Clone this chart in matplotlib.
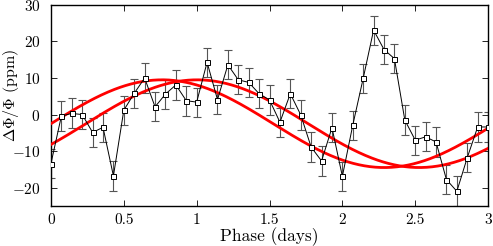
import numpy as np
import matplotlib
matplotlib.use('Agg')
import matplotlib.pyplot as plt

plt.rcParams['font.family'] = 'serif'
plt.rcParams['font.serif'] = ['cmr10']
plt.rcParams['mathtext.fontset'] = 'cm'
plt.rcParams['axes.formatter.use_mathtext'] = True
plt.rcParams['axes.unicode_minus'] = True

# binned phase curve (43 bins over 3 days)
phase = np.linspace(0, 3, 43)
flux = [-13.4, -0.4, 0.3, 0.0, -4.9, -3.5, -16.8, 1.2, 5.8, 10.0,
        2.1, 5.6, 8.1, 3.8, 3.4, 14.3, 4.1, 13.6, 9.5, 8.8,
        5.7, 4.0, -2.1, 5.7, -0.1, -8.9, -12.7, -3.6, -16.9, -2.9,
        9.9, 23.1, 17.8, 15.3, -1.5, -7.0, -6.1, -7.5, -17.8, -21.0,
        -11.8, -3.4, -3.4]
err = [4.0, 4.0, 4.1, 4.0, 4.0, 4.0, 4.1, 4.0, 4.0, 4.0,
       4.0, 4.0, 4.0, 4.1, 4.0, 4.0, 4.0, 4.0, 4.0, 4.0,
       4.0, 4.0, 4.0, 4.0, 4.0, 4.0, 4.0, 4.0, 4.0, 4.0,
       4.0, 4.0, 4.0, 4.0, 4.0, 4.0, 4.0, 4.0, 4.0, 4.1,
       4.0, 4.0, 4.0]

# sinusoidal model fits: offset, amplitude, period, phase shift
fit_offset = -2.5
fit_amp = 12.0
fit_period = 3.05
fit_shifts = [0.0, 0.24]

fig = plt.figure(figsize=(4.93, 2.46), dpi=100)
ax = fig.add_axes([0.1034, 0.163, 0.8866, 0.817])

xx = np.linspace(0, 3, 400)
for s in fit_shifts:
    ax.plot(xx, fit_offset + fit_amp * np.sin(2 * np.pi * (xx - s) / fit_period),
            color='red', lw=2.0, zorder=3)

ax.errorbar(phase, flux, yerr=err, fmt='none', ecolor='#555555',
            elinewidth=0.8, capsize=2.6, capthick=0.8, zorder=2)
ax.plot(phase, flux, color='black', lw=0.7, marker='s', ms=3.6,
        mfc='white', mec='black', mew=0.7, zorder=4)

ax.set_xlim(0, 3)
ax.set_ylim(-25, 30)
ax.set_xticks([0, 0.5, 1, 1.5, 2, 2.5, 3])
ax.set_xticklabels(['0', '0.5', '1', '1.5', '2', '2.5', '3'])
ax.set_yticks([-20, -10, 0, 10, 20, 30])
ax.tick_params(direction='in', top=True, right=True, length=4, width=0.6,
               labelsize=11)
ax.tick_params(axis='y', pad=7.5)
ax.tick_params(axis='x', pad=5.5)
for sp in ax.spines.values():
    sp.set_linewidth(1.0)
ax.set_xlabel('Phase (days)', fontsize=12.5, labelpad=0)
ax.set_ylabel(r'$\Delta\Phi/\Phi$ (ppm)', fontsize=11.5)
ax.yaxis.set_label_coords(-0.069, 0.552)

fig.savefig('out.png', dpi=100)
